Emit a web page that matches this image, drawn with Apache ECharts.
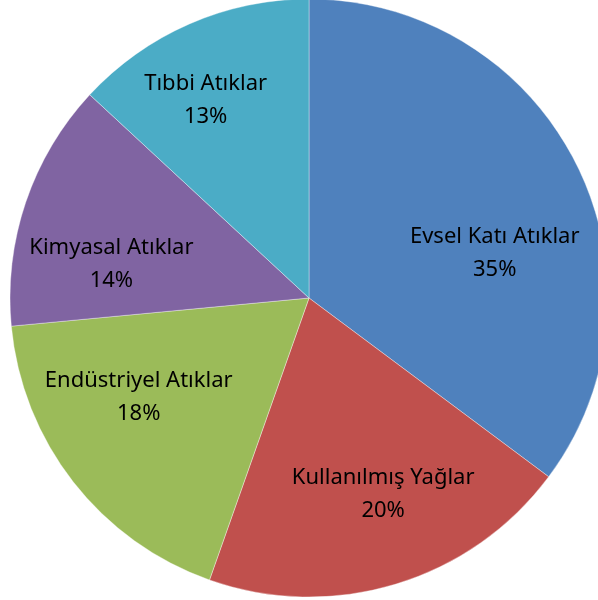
<!DOCTYPE html>
<html>
<head>
<meta charset="utf-8">
<script src="https://cdn.jsdelivr.net/npm/echarts@6/dist/echarts.min.js"></script>
<style>
  html, body { margin: 0; padding: 0; background: #fff; }
  #chart { width: 598px; height: 600px; }
</style>
</head>
<body>
<div id="chart"></div>
<script>
// veri (dilim büyüklükleri, etiketler resimdeki gibi)
var categories = ['Evsel Katı Atıklar', 'Kullanılmış Yağlar', 'Endüstriyel Atıklar', 'Kimyasal Atıklar', 'Tıbbi Atıklar'];
var values = [35.2, 20.2, 18.1, 13.4, 13.1];
var percentLabels = ['35%', '20%', '18%', '14%', '13%'];
var colors = ['#4F81BD', '#C0504D', '#9BBB59', '#8064A2', '#4BACC6'];
// etiket kaydırmaları (Excel "en uygun" yerleşimine yaklaşmak için)
var labelShift = [[4, 46], [15, 2], [-10, -26], [-5, 31], [-22, -11]];

var pieCenter = [309, 298];
var pieR = 299;

var data = [];
for (var i = 0; i < categories.length; i++) {
    data.push({ name: categories[i], value: values[i], itemStyle: { color: colors[i] } });
}

var myChart = echarts.init(document.getElementById('chart'));
var option = {
    animation: false,
    series: [
        {
            type: 'pie',
            center: pieCenter,
            radius: [0, pieR],
            startAngle: 90,
            clockwise: true,
            avoidLabelOverlap: false,
            itemStyle: { borderColor: 'rgba(255,255,255,0.6)', borderWidth: 0.6 },
            label: { show: false },
            labelLine: { show: false },
            data: data
        },
        {
            // sadece etiketler
            type: 'pie',
            center: pieCenter,
            radius: [pieR * 0.34, pieR],
            startAngle: 90,
            clockwise: true,
            silent: true,
            avoidLabelOverlap: false,
            itemStyle: { color: 'rgba(0,0,0,0)' },
            label: {
                show: true,
                position: 'inside',
                formatter: function (p) { return p.name + '\n' + percentLabels[p.dataIndex]; },
                color: '#000',
                fontFamily: 'Noto Sans',
                fontSize: 22,
                lineHeight: 33,
                align: 'center'
            },
            labelLayout: function (params) {
                var s = labelShift[params.dataIndex];
                return { dx: s[0], dy: s[1] };
            },
            labelLine: { show: false },
            data: categories.map(function (c, i) { return { name: c, value: values[i] }; })
        }
    ]
};
myChart.setOption(option);
</script>
</body>
</html>
